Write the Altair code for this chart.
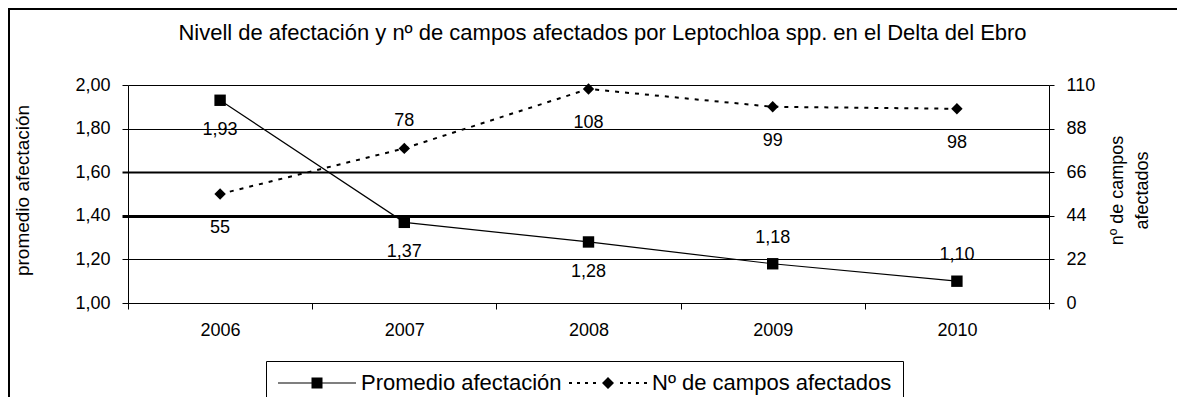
import altair as alt
import pandas as pd

# ---- data ----
years = ["2006", "2007", "2008", "2009", "2010"]
promedio = [1.93, 1.37, 1.28, 1.18, 1.10]
campos = [55, 78, 108, 99, 98]
series_names = ["Promedio afectación", "Nº de campos afectados"]
left_ticks = [1.0, 1.2, 1.4, 1.6, 1.8, 2.0]
right_ticks = [0, 22, 44, 66, 88, 110]
title_text = "Nivell de afectación y nº de campos afectados por Leptochloa spp. en el Delta del Ebro"
left_title = "promedio afectación"
right_title = ["nº de campos", "afectados"]

df = pd.DataFrame({"year": years, "promedio": promedio, "campos": campos})
df["prom_label"] = [f"{v:.2f}".replace(".", ",") for v in promedio]
df["campos_label"] = [str(v) for v in campos]

FONT = "Liberation Sans, Arial, sans-serif"
W, H = 921, 218

base = alt.Chart(df)

x_enc = alt.X(
    "year:O", title=None,
    scale=alt.Scale(paddingInner=0, paddingOuter=0),
    axis=alt.Axis(tickBand="extent", labelAngle=0, tickSize=6, labelPadding=12,
                  labelFontSize=18, labelFont=FONT, labelColor="black",
                  domainColor="black", tickColor="black", grid=False),
)

grid_w = {"condition": [{"test": "abs(datum.value - 1.4) < 0.001", "value": 3},
                        {"test": "abs(datum.value - 1.6) < 0.001", "value": 2}],
          "value": 1}

y_prom = alt.Y(
    "promedio:Q",
    scale=alt.Scale(domain=[1, 2], nice=False, zero=False),
    axis=alt.Axis(orient="left", values=left_ticks,
                  labelExpr="replace(format(datum.value, '.2f'), '.', ',')",
                  title=left_title, titleX=-106, titleY=105, titleAngle=-90,
                  titleBaseline="middle", titleAlign="center",
                  titleFont=FONT, titleFontSize=19, titleFontWeight="normal", titleColor="black",
                  grid=True, gridColor="black", gridOpacity=1, gridWidth=grid_w,
                  tickSize=6, tickWidth=grid_w, tickColor="black", domainColor="black",
                  labelPadding=12, labelFont=FONT, labelFontSize=18, labelColor="black"),
)

y_camp = alt.Y(
    "campos:Q",
    scale=alt.Scale(domain=[0, 110], nice=False, zero=True),
    axis=alt.Axis(orient="right", values=right_ticks, grid=False,
                  title=right_title, titleX=68, titleY=105, titleAngle=-90,
                  titleBaseline="middle", titleAlign="center", titleLineHeight=25,
                  titleFont=FONT, titleFontSize=18, titleFontWeight="normal", titleColor="black",
                  tickSize=5, tickColor="black", domainColor="black",
                  labelPadding=12, labelFont=FONT, labelFontSize=18, labelColor="black"),
)

# promedio layers
prom_line = base.mark_line(color="black", strokeWidth=1.2).encode(x=x_enc, y=y_prom)
prom_pts = base.mark_point(shape="square", filled=True, size=130, color="black", opacity=1).encode(
    x=alt.X("year:O"), y=alt.Y("promedio:Q"))
prom_txt_below = base.transform_filter("datum.promedio >= 1.2").mark_text(
    dy=30, font=FONT, fontSize=18, color="black").encode(
    x=alt.X("year:O"), y=alt.Y("promedio:Q"), text="prom_label:N")
prom_txt_above = base.transform_filter("datum.promedio < 1.2").mark_text(
    dy=-26, font=FONT, fontSize=18, color="black").encode(
    x=alt.X("year:O"), y=alt.Y("promedio:Q"), text="prom_label:N")
prom_layer = alt.layer(prom_line, prom_pts, prom_txt_below, prom_txt_above)

# campos layers
camp_line = base.mark_line(color="black", strokeWidth=2, strokeDash=[4, 6]).encode(x=alt.X("year:O"), y=y_camp)
camp_pts = base.mark_point(shape="diamond", filled=True, size=130, color="black", opacity=1).encode(
    x=alt.X("year:O"), y=alt.Y("campos:Q"))
camp_txt_below = base.transform_filter("datum.campos < 70 || datum.campos > 90").mark_text(
    dy=34, font=FONT, fontSize=18, color="black").encode(
    x=alt.X("year:O"), y=alt.Y("campos:Q"), text="campos_label:N")
camp_txt_above = base.transform_filter("datum.campos >= 70 && datum.campos <= 90").mark_text(
    dy=-27, font=FONT, fontSize=18, color="black").encode(
    x=alt.X("year:O"), y=alt.Y("campos:Q"), text="campos_label:N")
camp_layer = alt.layer(camp_line, camp_pts, camp_txt_below, camp_txt_above)

# legend symbols (line + marker) as filled custom paths
def rect_path(x0, x1, h):
    return f"M{x0:.2f},{-h:.2f}H{x1:.2f}V{h:.2f}H{x0:.2f}Z"

path_sq = rect_path(-3.9, 3.9, 0.06) + rect_path(-0.55, 0.55, 0.55)
dash_parts = []
for s in [-3.9, -3.1, -2.3, -1.5]:
    dash_parts.append(rect_path(s, s + 0.3, 0.1))
    dash_parts.append(rect_path(-s - 0.3, -s, 0.1))
path_di = "".join(dash_parts) + "M0,-0.6L0.6,0L0,0.6L-0.6,0Z"

legend_layer = base.transform_filter("false").transform_calculate(serie="'x'").mark_point(
    filled=True, color="black", opacity=1, size=400).encode(
    x=alt.value(0), y=alt.value(0),
    shape=alt.Shape("serie:N", scale=alt.Scale(domain=series_names, range=[path_sq, path_di]),
                    legend=alt.Legend(title=None, orient="none", legendX=138, legendY=276,
                                      direction="horizontal", strokeColor="black", fillColor="white",
                                      padding=11, symbolSize=400, symbolOffset=29, labelOffset=33,
                                      labelFont=FONT, labelFontSize=22, labelColor="black",
                                      labelLimit=500, columnPadding=6,
                                      symbolFillColor="black", symbolStrokeWidth=0)))

border = base.mark_rect(fillOpacity=0, stroke="black", strokeWidth=1.5).encode(
    x=alt.value(-119), x2=alt.value(W + 140), y=alt.value(-76), y2=alt.value(H + 200))

chart = alt.layer(prom_layer, camp_layer, legend_layer, border).resolve_scale(y="independent").properties(
    width=W, height=H,
    title=alt.Title(title_text, font=FONT, fontSize=22, fontWeight="normal", color="black",
                    anchor="middle", offset=-54, dx=14, baseline="alphabetic"),
    padding={"left": 120, "top": 77, "right": 128, "bottom": 94},
    autosize=alt.AutoSizeParams(type="none"),
    background="white",
).configure_view(strokeWidth=0)

chart.save("out.html", embed_options={"renderer": "svg", "actions": False})
